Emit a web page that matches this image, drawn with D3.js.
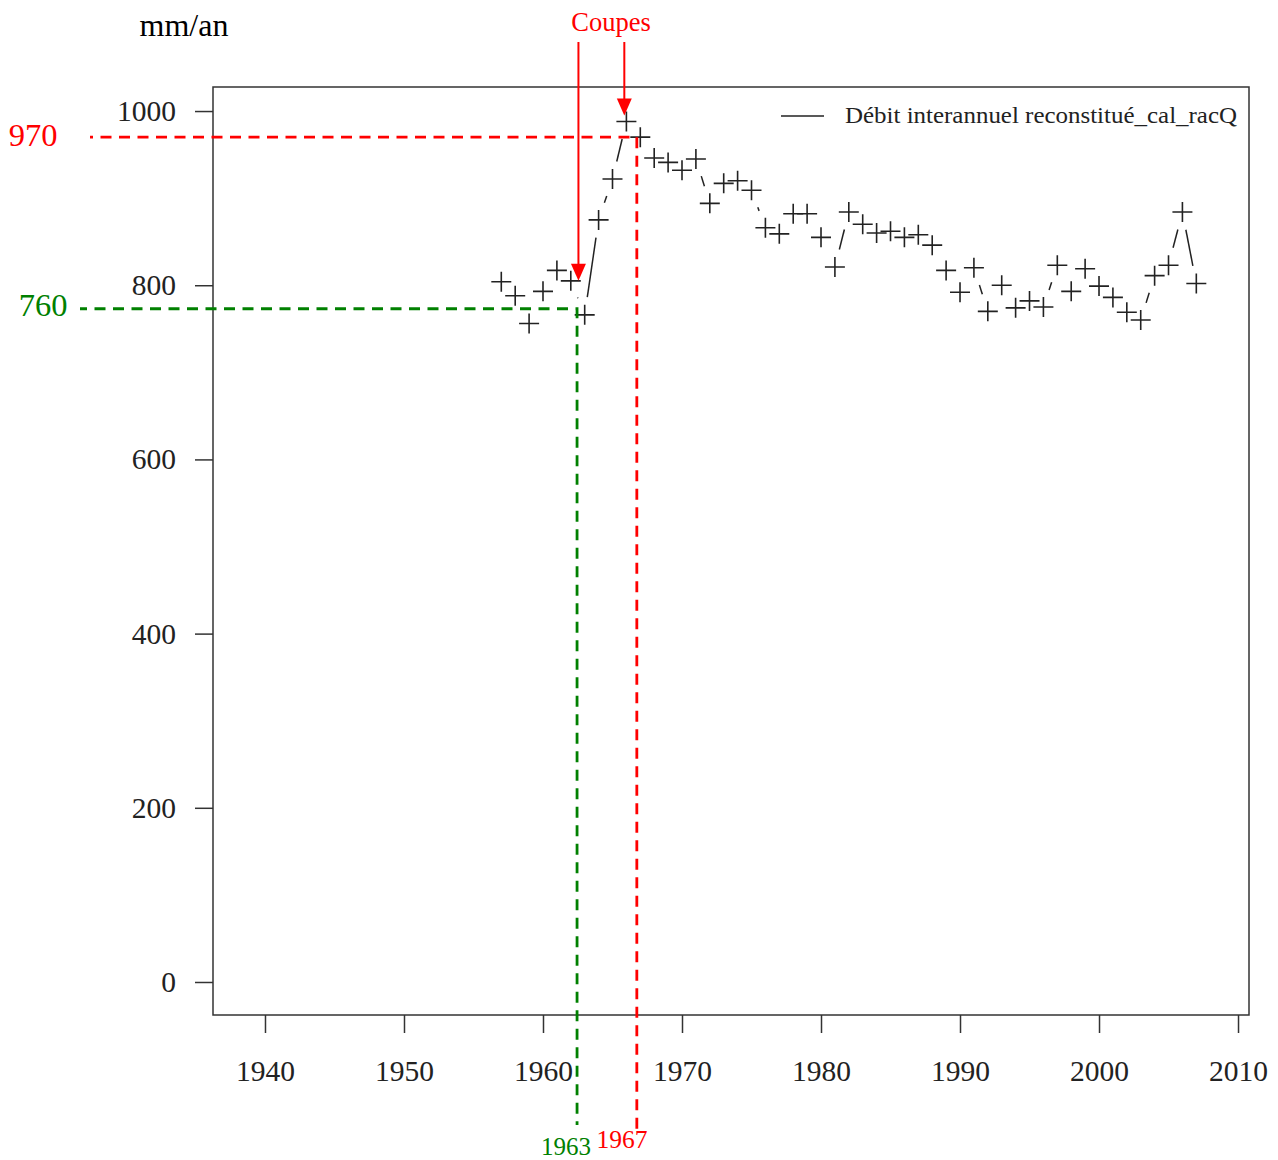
<!DOCTYPE html>
<html>
<head>
<meta charset="utf-8">
<script src="https://cdn.jsdelivr.net/npm/d3@7"></script>
<style>
  body { margin: 0; background: #fff; }
  svg text { font-family: "Liberation Serif", "DejaVu Serif", serif; }
</style>
</head>
<body>
<div id="chart"></div>
<script>
// annual discharge, reconstructed (mm/an)
var years = [1957, 1958, 1959, 1960, 1961, 1962, 1963, 1964, 1965, 1966,
  1967, 1968, 1969, 1970, 1971, 1972, 1973, 1974, 1975, 1976,
  1977, 1978, 1979, 1980, 1981, 1982, 1983, 1984, 1985, 1986,
  1987, 1988, 1989, 1990, 1991, 1992, 1993, 1994, 1995, 1996,
  1997, 1998, 1999, 2000, 2001, 2002, 2003, 2004, 2005, 2006, 2007];
var debit = [804, 788, 756, 793, 817, 805, 766, 875, 922, 988,
  970, 946, 941, 932, 945, 894, 917, 920, 909, 866,
  859, 882, 882, 855, 821, 884, 870, 860, 862, 855,
  858, 846, 817, 792, 820, 770, 800, 774, 782, 775,
  823, 793, 819, 799, 786, 769, 760, 811, 823, 884, 802];
var xTicks = [1940, 1950, 1960, 1970, 1980, 1990, 2000, 2010];
var yTicks = [0, 200, 400, 600, 800, 1000];
var seriesName = "Débit interannuel reconstitué_cal_racQ";

// annotations: felling years / levels
var avantX = 1962.45, avantY = 773, avantLabel = "760", avantYear = "1963";
var apresX = 1966.75, apresY = 970, apresLabel = "970", apresYear = "1967";
var arrowYears = [1962.55, 1965.85];
var arrowTargets = [805, 995];

var width = 1278, height = 1160;
var svg = d3.select("#chart").append("svg")
    .attr("width", width)
    .attr("height", height);

var x = d3.scaleLinear().domain([1936.26, 2010.79]).range([213, 1249]);
var y = d3.scaleLinear().domain([-37.9, 1027.6]).range([1015, 87]);

// frame
svg.append("rect")
    .attr("x", 213).attr("y", 87)
    .attr("width", 1036).attr("height", 928)
    .attr("fill", "none").attr("stroke", "#333").attr("stroke-width", 1.5);

var yAxis = svg.append("g")
    .attr("transform", "translate(213,0)")
    .call(d3.axisLeft(y).tickValues(yTicks).tickSize(18).tickPadding(19).tickFormat(d3.format("d")));
var xAxis = svg.append("g")
    .attr("transform", "translate(0,1015)")
    .call(d3.axisBottom(x).tickValues(xTicks).tickSize(18).tickPadding(27).tickFormat(d3.format("d")));

[yAxis, xAxis].forEach(function(a) {
  a.select(".domain").remove();
  a.selectAll("line").attr("stroke", "#333").attr("stroke-width", 1.5);
  a.selectAll("text").attr("font-size", 29.5).attr("fill", "#222")
      .style("font-family", "Liberation Serif, serif");
});

svg.append("text")
    .attr("x", 184).attr("y", 36)
    .attr("text-anchor", "middle")
    .attr("font-size", 32)
    .text("mm/an");

// R type="b" : segments with a gap around each point
var gap = 18;
var pts = years.map(function(d, i) { return [x(d), y(debit[i])]; });
for (var i = 0; i < pts.length - 1; i++) {
  var a = pts[i], b = pts[i + 1];
  var dx = b[0] - a[0], dy = b[1] - a[1];
  var len = Math.sqrt(dx * dx + dy * dy);
  if (len <= 2 * gap) continue;
  var ux = dx / len, uy = dy / len;
  svg.append("line")
      .attr("x1", a[0] + ux * gap).attr("y1", a[1] + uy * gap)
      .attr("x2", b[0] - ux * gap).attr("y2", b[1] - uy * gap)
      .attr("stroke", "#222").attr("stroke-width", 1.5);
}

svg.selectAll(".pt")
    .data(pts)
    .enter()
    .append("path")
    .attr("class", "pt")
    .attr("d", "M-10,0H10M0,-10V10")
    .attr("transform", function(d) { return "translate(" + d[0] + "," + d[1] + ")"; })
    .attr("stroke", "#222")
    .attr("stroke-width", 1.6)
    .attr("fill", "none");

// legend
svg.append("line")
    .attr("x1", 781).attr("x2", 824).attr("y1", 116).attr("y2", 116)
    .attr("stroke", "#222").attr("stroke-width", 1.3);
svg.append("text")
    .attr("x", 845).attr("y", 123)
    .attr("font-size", 23.5)
    .attr("fill", "#222")
    .attr("textLength", 392)
    .attr("lengthAdjust", "spacingAndGlyphs")
    .text(seriesName);

// annotation lines
svg.append("path")
    .attr("d", "M80," + y(avantY) + "H" + x(avantX) + "V1125")
    .attr("fill", "none").attr("stroke", "#008000")
    .attr("stroke-width", 2.8).attr("stroke-dasharray", "11,7.5")
    .attr("stroke-dashoffset", 4);
svg.append("path")
    .attr("d", "M90," + y(apresY) + "H" + x(apresX) + "V1130")
    .attr("fill", "none").attr("stroke", "#ff0000")
    .attr("stroke-width", 2.8).attr("stroke-dasharray", "11,7.5")
    .attr("stroke-dashoffset", 8);

svg.append("text").attr("x", 43).attr("y", 316)
    .attr("text-anchor", "middle").attr("font-size", 32.5).attr("fill", "#008000")
    .text(avantLabel);
svg.append("text").attr("x", 33).attr("y", 146)
    .attr("text-anchor", "middle").attr("font-size", 32.5).attr("fill", "#ff0000")
    .text(apresLabel);
svg.append("text").attr("x", 566).attr("y", 1155)
    .attr("text-anchor", "middle").attr("font-size", 25).attr("fill", "#008000")
    .text(avantYear);
svg.append("text").attr("x", 622).attr("y", 1148)
    .attr("text-anchor", "middle").attr("font-size", 25.5).attr("fill", "#ff0000")
    .text(apresYear);

// "Coupes" arrows
svg.append("text").attr("x", 611).attr("y", 31)
    .attr("text-anchor", "middle").attr("font-size", 26.5).attr("fill", "#ff0000")
    .text("Coupes");
arrowYears.forEach(function(yr, i) {
  var ax = x(yr), tip = y(arrowTargets[i]);
  svg.append("line")
      .attr("x1", ax).attr("x2", ax).attr("y1", 42).attr("y2", tip - 14)
      .attr("stroke", "#ff0000").attr("stroke-width", 2);
  svg.append("path")
      .attr("d", "M" + (ax - 7.5) + "," + (tip - 17) + "L" + (ax + 7.5) + "," + (tip - 17) + "L" + ax + "," + tip + "Z")
      .attr("fill", "#ff0000");
});
</script>
</body>
</html>
